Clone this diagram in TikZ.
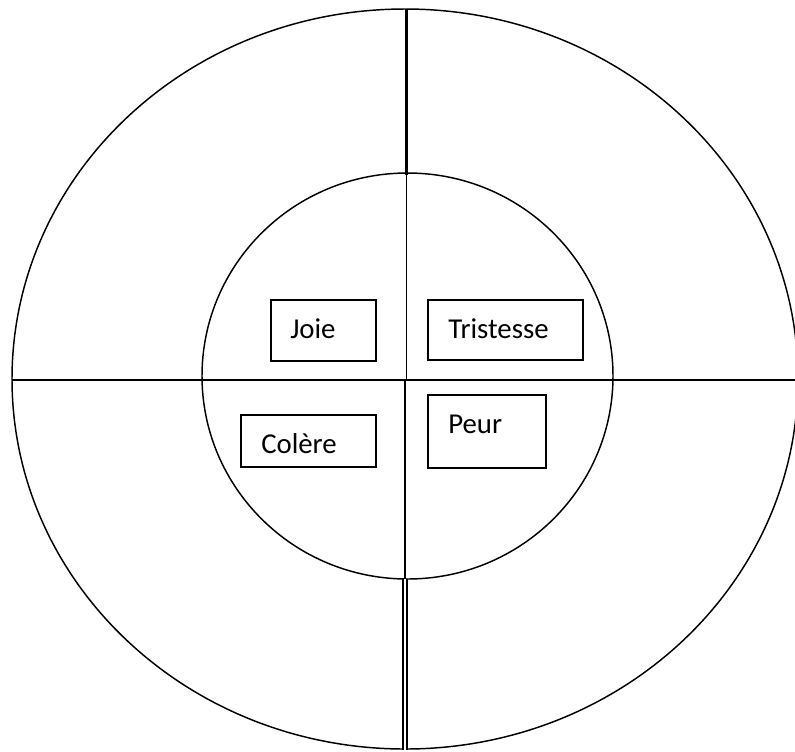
\documentclass[tikz,border=0pt]{standalone}
\usepackage{fontspec}
\setmainfont{Carlito}
\usetikzlibrary{calc}
\tikzset{
  box/.style={draw,line width=1.1pt,inner sep=0pt},
  word/.style={font=\fontsize{21.6}{26}\selectfont,inner sep=0pt,anchor=base west}
}

\begin{document}
\begin{tikzpicture}[x=0.75pt,y=-0.75pt]
  \useasboundingbox (0,0) rectangle (795,751);
  \coordinate (O) at (405,379); \coordinate (I) at (407.5,376);
  \coordinate (T) at (406.5,9); \coordinate (Ti) at (406.5,175);
  \coordinate (Tc) at (406.5,380);
  \coordinate (L) at (12,380); \coordinate (R) at (795,380);
  \coordinate (Bc) at (405,380); \coordinate (Bi) at (405,579);
  \coordinate (B) at (405,750);
  \begin{scope}
    \clip (0,0) rectangle (795,751);
    \draw[line width=1.1pt] (O) ellipse [x radius=393, y radius=370];
  \end{scope}
  \draw[line width=1.1pt] (I) ellipse [x radius=205.5, y radius=203];
  \draw[line width=2.2pt] (T)--(Ti);
  \draw[line width=1pt] (Ti)--(Tc);
  \draw[line width=1.6pt] (L)--(R);
  \draw[line width=1pt] (Bc)--(Bi);
  \draw[line width=0.8pt,double,double distance=2.2pt] (Bi)--(B);
  % the four boxes
  \foreach \n/\x/\y/\w/\h in {joie/323.5/330.5/105/61, tristesse/505.5/330/155/60,
      colere/308.5/441/135/52, peur/487/431.5/118/73}
    \node[box,minimum width=\w*0.75pt,minimum height=\h*0.75pt] (\n) at (\x,\y) {};
  \node[word] (joiet) at (290,338) {Joie};
  \node[word] (tristesset) at (448,338) {Tristesse};
  \node[word] (coleret) at (261,453) {Colère};
  \node[word] (peurt) at (448,433) {Peur};
\end{tikzpicture}
\end{document}
